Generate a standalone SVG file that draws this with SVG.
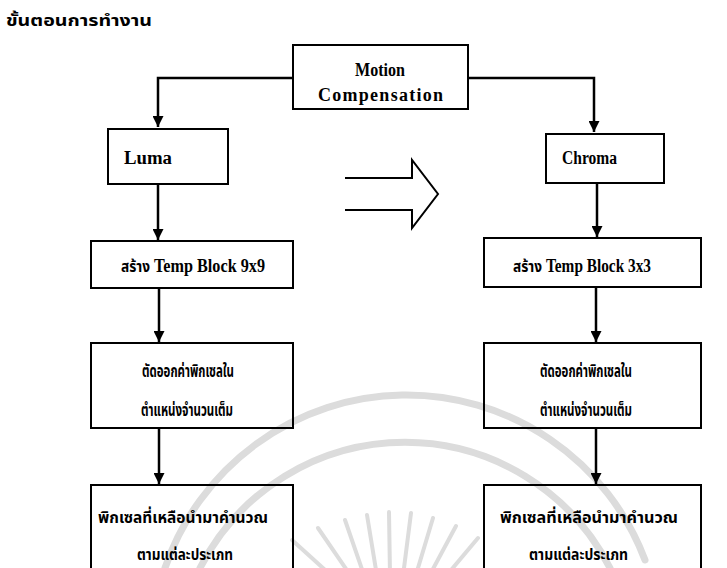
<svg xmlns="http://www.w3.org/2000/svg" width="727" height="568" viewBox="0 0 727 568">
  <style>
    .box { fill: none; stroke: #000; stroke-width: 2; }
    .en { font-family: "Liberation Serif", "Times New Roman", serif; font-size: 18px; font-weight: bold; fill: #000; }
    .th { font-family: "Noto Sans Thai", "Noto Sans", "DejaVu Sans", sans-serif; font-size: 16px; font-weight: bold; fill: #000; }
    .th-tall { font-size: 18px; }
    .wire { fill: none; stroke: #000; stroke-width: 2.5; }
    .mark { fill: none; stroke: #dcdcdc; stroke-linecap: round; }
  </style>
  <defs>
    <marker id="head" viewBox="0 0 10 10" refX="10" refY="5" markerWidth="4.4" markerHeight="4.4" orient="auto" markerUnits="strokeWidth">
      <path d="M0,0 L10,5 L0,10 Z" fill="#000"/>
    </marker>
  </defs>

  <rect width="727" height="568" fill="#fff"/>

  <!-- faint seal in the background -->
  <g id="seal">
    <path class="mark" stroke-width="7" d="M165,568 A255,255 0 0 1 645,560"/>
    <path class="mark" stroke-width="7" d="M200,568 A230,230 0 0 1 610,568"/>
    <g stroke-width="4" class="mark">
      <line x1="355" y1="582" x2="318" y2="528"/>
      <line x1="365" y1="578" x2="345" y2="520"/>
      <line x1="377" y1="576" x2="367" y2="515"/>
      <line x1="390" y1="575" x2="389" y2="512"/>
      <line x1="403" y1="576" x2="411" y2="513"/>
      <line x1="415" y1="578" x2="433" y2="518"/>
      <line x1="426" y1="582" x2="456" y2="526"/>
      <line x1="345" y1="588" x2="292" y2="540"/>
      <line x1="436" y1="588" x2="478" y2="538"/>
    </g>
  </g>

  <text class="th" x="6" y="26" font-size="20" textLength="146" lengthAdjust="spacingAndGlyphs">ขั้นตอนการทำงาน</text>

  <!-- connectors -->
  <g id="connectors">
    <path class="wire" d="M293,78 H158 V127" marker-end="url(#head)"/>
    <path class="wire" d="M468,78 H594 V132" marker-end="url(#head)"/>
    <path class="wire" d="M158,184 V240" marker-end="url(#head)"/>
    <path class="wire" d="M159,288 V342" marker-end="url(#head)"/>
    <path class="wire" d="M159,428 V484" marker-end="url(#head)"/>
    <path class="wire" d="M597,183 V237" marker-end="url(#head)"/>
    <path class="wire" d="M596,288 V342" marker-end="url(#head)"/>
    <path class="wire" d="M596,428 V484" marker-end="url(#head)"/>
    <!-- hollow block arrow between the two columns -->
    <path fill="none" stroke="#000" stroke-width="2" stroke-linejoin="miter"
          d="M345,178 H412 V160 L438,194 L412,228 V210 H345"/>
  </g>

  <g id="motion-compensation">
    <rect class="box" x="293" y="45" width="175" height="64"/>
    <text class="en" x="355" y="76" textLength="50" lengthAdjust="spacingAndGlyphs">Motion</text>
    <text class="en" x="318" y="101" textLength="125" lengthAdjust="spacing">Compensation</text>
  </g>

  <g id="luma">
    <rect class="box" x="108" y="129" width="120" height="55"/>
    <text class="en" x="124" y="164" textLength="48" lengthAdjust="spacingAndGlyphs">Luma</text>
  </g>

  <g id="chroma">
    <rect class="box" x="546" y="134" width="118" height="49"/>
    <text class="en" x="562" y="164" textLength="55" lengthAdjust="spacingAndGlyphs">Chroma</text>
  </g>

  <g id="temp-9x9">
    <rect class="box" x="91" y="241" width="202" height="47"/>
    <text class="th" x="121" y="272" font-size="14" textLength="29" lengthAdjust="spacingAndGlyphs">สร้าง</text>
    <text class="en" x="154" y="272" textLength="111" lengthAdjust="spacingAndGlyphs">Temp Block 9x9</text>
  </g>

  <g id="temp-3x3">
    <rect class="box" x="484" y="238" width="217" height="49"/>
    <text class="th" x="513" y="272" font-size="14" textLength="29" lengthAdjust="spacingAndGlyphs">สร้าง</text>
    <text class="en" x="546" y="272" textLength="105" lengthAdjust="spacingAndGlyphs">Temp Block 3x3</text>
  </g>

  <g id="cut-left">
    <rect class="box" x="91" y="343" width="202" height="85"/>
    <text class="th th-tall" x="142" y="377" textLength="92" lengthAdjust="spacingAndGlyphs">ตัดออกค่าพิกเซลใน</text>
    <text class="th th-tall" x="141" y="416" textLength="92" lengthAdjust="spacingAndGlyphs">ตำแหน่งจำนวนเต็ม</text>
  </g>

  <g id="cut-right">
    <rect class="box" x="484" y="343" width="217" height="85"/>
    <text class="th th-tall" x="540" y="377" textLength="92" lengthAdjust="spacingAndGlyphs">ตัดออกค่าพิกเซลใน</text>
    <text class="th th-tall" x="540" y="416" textLength="92" lengthAdjust="spacingAndGlyphs">ตำแหน่งจำนวนเต็ม</text>
  </g>

  <g id="rest-left">
    <rect class="box" x="91" y="485" width="202" height="90"/>
    <text class="th" x="98" y="523" textLength="170" lengthAdjust="spacingAndGlyphs">พิกเซลที่เหลือนำมาคำนวณ</text>
    <text class="th" x="137" y="560" textLength="96" lengthAdjust="spacingAndGlyphs">ตามแต่ละประเภท</text>
  </g>

  <g id="rest-right">
    <rect class="box" x="484" y="485" width="217" height="90"/>
    <text class="th" x="500" y="523" textLength="178" lengthAdjust="spacingAndGlyphs">พิกเซลที่เหลือนำมาคำนวณ</text>
    <text class="th" x="529" y="560" textLength="99" lengthAdjust="spacingAndGlyphs">ตามแต่ละประเภท</text>
  </g>
</svg>
